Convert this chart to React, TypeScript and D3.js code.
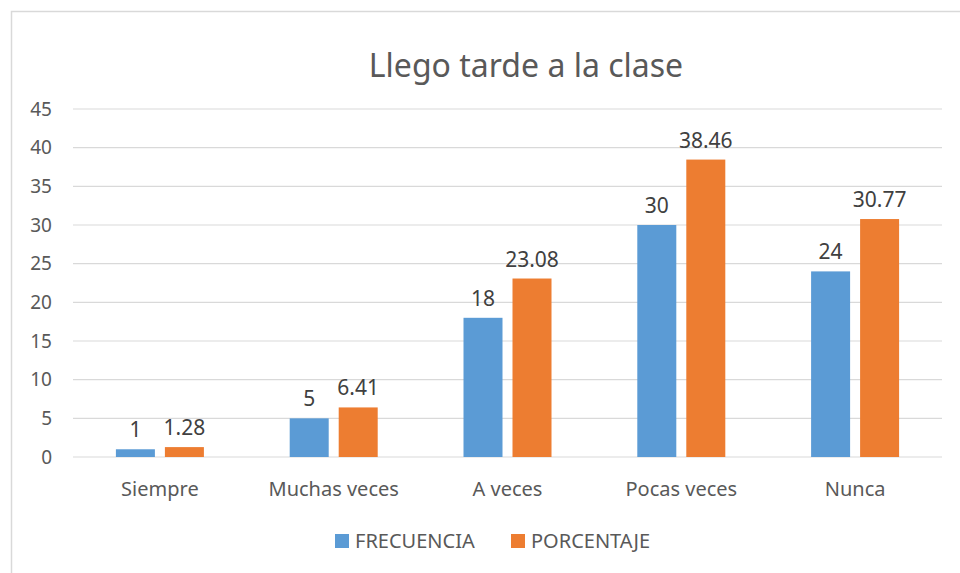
import React, { useRef, useEffect } from 'react';
import * as d3 from 'd3';

const categories = ['Siempre', 'Muchas veces', 'A veces', 'Pocas veces', 'Nunca'];
const frecuencia = [1, 5, 18, 30, 24];
const porcentaje = [1.28, 6.41, 23.08, 38.46, 30.77];
const yTicks = [0, 5, 10, 15, 20, 25, 30, 35, 40, 45];
const seriesNames = ['FRECUENCIA', 'PORCENTAJE'];
const colors = ['#5B9BD5', '#ED7D31'];

export default function App() {
    const ref = useRef<SVGSVGElement>(null);

    useEffect(() => {
        const svg = d3.select(ref.current);
        svg.selectAll('*').remove();
        const font = "'Noto Sans', sans-serif";
        const textColor = '#595959';

        const left = 73, right = 942, top = 109, bottom = 457;

        // chart frame
        svg.append('rect')
            .attr('x', 11.5).attr('y', 11.5)
            .attr('width', 960).attr('height', 600)
            .attr('fill', '#fff')
            .attr('stroke', '#d9d9d9')
            .attr('stroke-width', 1.5);

        const x0 = d3.scaleBand().domain(categories).range([left, right]).padding(0);
        const y = d3.scaleLinear().domain([0, 45]).range([bottom, top]);

        // grid
        svg.append('g')
            .selectAll('line')
            .data(yTicks)
            .join('line')
            .attr('x1', left).attr('x2', right)
            .attr('y1', d => y(d)).attr('y2', d => y(d))
            .attr('stroke', '#d9d9d9')
            .attr('stroke-width', 1.2);

        // y labels
        svg.append('g')
            .selectAll('text')
            .data(yTicks)
            .join('text')
            .attr('x', 52)
            .attr('y', d => y(d))
            .attr('dy', '0.35em')
            .attr('text-anchor', 'end')
            .style('font-family', font)
            .style('font-size', '19px')
            .attr('fill', textColor)
            .text(d => d);

        const barW = 39, gap = 10;
        const data = [frecuencia, porcentaje];
        data.forEach((vals, s) => {
            const g = svg.append('g');
            const bx = (i: number) => x0(categories[i])! + x0.bandwidth() / 2 - barW - gap / 2 + s * (barW + gap);
            g.selectAll('rect')
                .data(vals)
                .join('rect')
                .attr('x', (d, i) => bx(i))
                .attr('y', d => y(d))
                .attr('width', barW)
                .attr('height', d => y(0) - y(d))
                .attr('fill', colors[s]);
            g.selectAll('text')
                .data(vals)
                .join('text')
                .attr('x', (d, i) => bx(i) + barW / 2)
                .attr('y', d => y(d) - 12)
                .attr('text-anchor', 'middle')
                .style('font-family', font)
                .style('font-size', '21px')
                .attr('fill', '#404040')
                .text(d => d);
        });

        // x labels
        svg.append('g')
            .selectAll('text')
            .data(categories)
            .join('text')
            .attr('x', d => x0(d)! + x0.bandwidth() / 2)
            .attr('y', 496)
            .attr('text-anchor', 'middle')
            .style('font-family', font)
            .style('font-size', '20px')
            .attr('fill', textColor)
            .text(d => d);

        // title
        svg.append('text')
            .attr('x', 526)
            .attr('y', 77)
            .attr('text-anchor', 'middle')
            .style('font-family', font)
            .style('font-size', '32px')
            .attr('fill', textColor)
            .text('Llego tarde a la clase');

        // legend
        const legendX = [335, 511];
        seriesNames.forEach((name, i) => {
            svg.append('rect')
                .attr('x', legendX[i]).attr('y', 534)
                .attr('width', 14).attr('height', 14)
                .attr('fill', colors[i]);
            svg.append('text')
                .attr('x', legendX[i] + 20)
                .attr('y', 541)
                .attr('dy', '0.35em')
                .style('font-family', font)
                .style('font-size', '20px')
                .attr('fill', textColor)
                .text(name);
        });
    }, []);

    return <svg ref={ref} width={960} height={573} style={{ position: 'absolute', left: 0, top: 0, display: 'block' }}></svg>;
}
